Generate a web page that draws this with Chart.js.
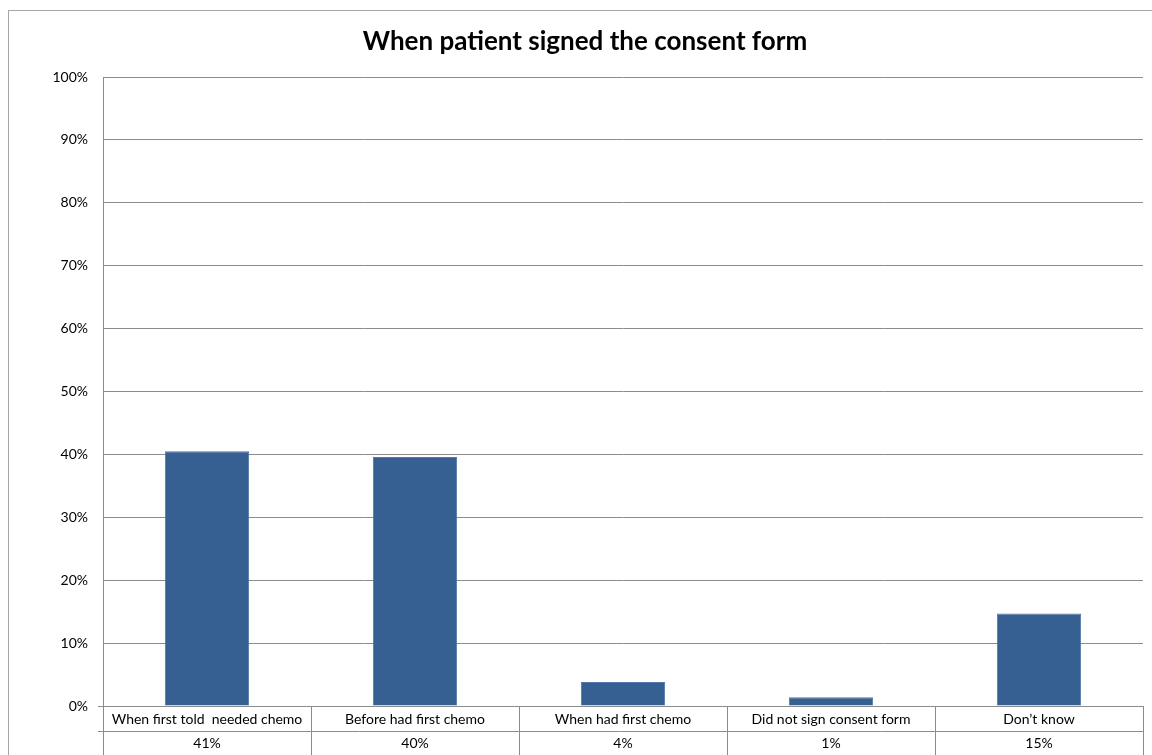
<!DOCTYPE html>
<html>
<head>
<meta charset="utf-8">
<title>When patient signed the consent form</title>
<script src="https://cdn.jsdelivr.net/npm/chart.js@4.4.1/dist/chart.umd.min.js"></script>
<style>
  html, body { margin: 0; padding: 0; background: #fff; }
  #wrap { width: 1152px; height: 755px; position: relative; }
</style>
</head>
<body>
<div id="wrap"><canvas id="consentChart"></canvas></div>
<script>
const titleText = 'When patient signed the consent form';
const categories = [
  'When first told  needed chemo',
  'Before had first chemo',
  'When had first chemo',
  'Did not sign consent form',
  'Don\u2019t know'
];
const shares = [40.5, 39.6, 3.8, 1.4, 14.7];
const yTicks = [0, 10, 20, 30, 40, 50, 60, 70, 80, 90, 100];

const FONT = "Lato, 'Open Sans', sans-serif";
const lineColor = '#8c8c8c';

// Frame, title and the data table under the plot
const tablePlugin = {
  id: 'dataTable',
  beforeDraw(chart) {
    const ctx = chart.ctx;
    ctx.save();
    ctx.strokeStyle = '#a6a6a6';
    ctx.lineWidth = 1;
    ctx.strokeRect(8.5, 10.5, chart.width + 20, chart.height + 20);
    ctx.restore();
  },
  afterDraw(chart) {
    const ctx = chart.ctx;
    const area = chart.chartArea;
    const x = chart.scales.x;
    const rowH = 24.5;
    const top = area.bottom;
    const step = (area.right - area.left) / categories.length;

    ctx.save();
    ctx.fillStyle = '#000';
    ctx.font = "bold 26px " + FONT;
    ctx.textAlign = 'center';
    ctx.textBaseline = 'middle';
    ctx.fillText(titleText, 585, 42);

    ctx.strokeStyle = lineColor;
    ctx.lineWidth = 1;
    ctx.beginPath();
    for (let r = 0; r <= 2; r++) {
      const y = Math.round(top + r * rowH) + 0.5;
      ctx.moveTo(area.left - 5, y);
      ctx.lineTo(area.right, y);
    }
    for (let i = 0; i <= categories.length; i++) {
      const vx = Math.round(area.left + i * step) + 0.5;
      ctx.moveTo(vx, top);
      ctx.lineTo(vx, chart.height);
    }
    ctx.stroke();

    ctx.font = "14px " + FONT;
    categories.forEach((c, i) => {
      const cx = x.getPixelForValue(i);
      ctx.fillText(c, cx, top + rowH / 2 + 1);
      ctx.fillText(Math.round(shares[i]) + '%', cx, top + rowH * 1.5 + 1);
    });
    ctx.restore();
  }
};

new Chart(document.getElementById('consentChart'), {
  type: 'bar',
  data: {
    labels: categories,
    datasets: [{
      label: 'Share',
      data: shares,
      backgroundColor: '#376092',
      borderColor: '#4f79aa',
      borderWidth: 1,
      categoryPercentage: 1,
      barPercentage: 0.405
    }]
  },
  options: {
    responsive: true,
    maintainAspectRatio: false,
    animation: false,
    layout: {
      padding: { left: 0, top: 77, right: 9, bottom: 49 }
    },
    plugins: {
      legend: { display: false },
      tooltip: { enabled: false },
      title: { display: false }
    },
    scales: {
      x: {
        display: false
      },
      y: {
        min: 0,
        max: 100,
        afterFit(axis) { axis.width = 103; },
        afterBuildTicks(axis) { axis.ticks = yTicks.map(v => ({ value: v })); },
        grid: {
          color: lineColor,
          drawTicks: false
        },
        border: { display: true, color: lineColor },
        ticks: {
          padding: 15,
          color: '#000',
          font: { family: FONT, size: 14 },
          callback: function(value) {
            return value + '%';
          }
        }
      }
    }
  },
  plugins: [tablePlugin]
});
</script>
</body>
</html>
